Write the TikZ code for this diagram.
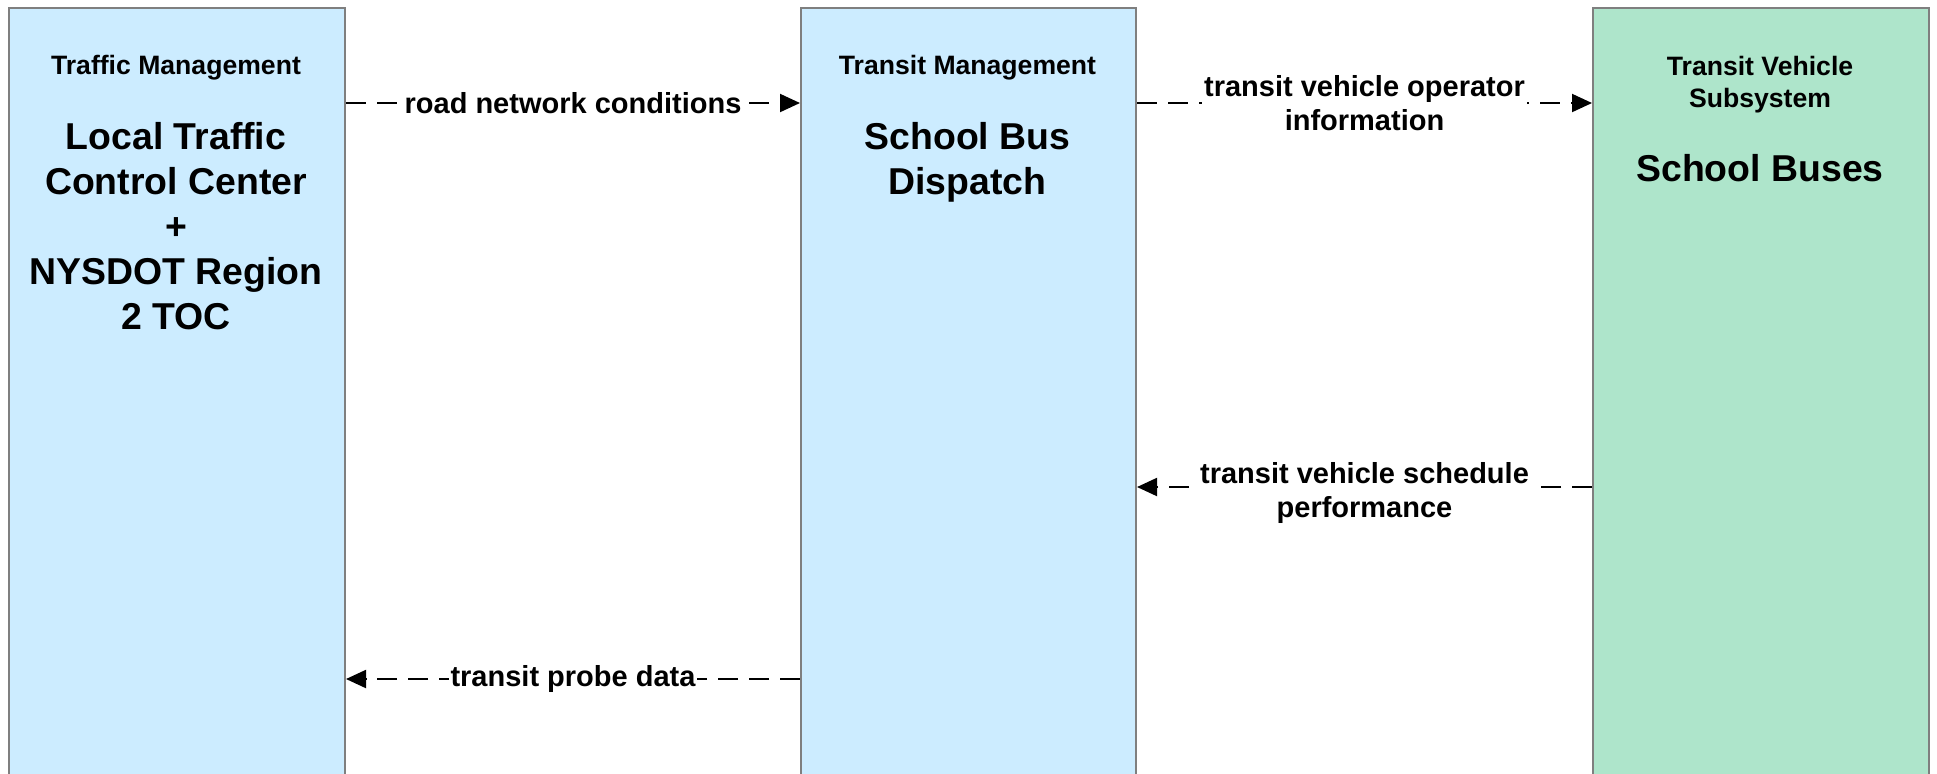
\documentclass[tikz,border=0pt]{standalone}
\usepackage{fontspec}
\setmainfont{Liberation Sans}
\usetikzlibrary{arrows.meta}

\definecolor{tmblue}{HTML}{CCECFF}
\definecolor{tvgreen}{HTML}{AEE5CB}
\definecolor{boxgray}{HTML}{7F7F7F}

\tikzset{
  sysbox/.style={draw=boxgray, line width=1pt, minimum width=168pt, minimum height=400pt, anchor=north west, inner sep=0pt},
  systitle/.style={font=\fontsize{13.3}{16}\selectfont\bfseries, align=center},
  sysname/.style={font=\fontsize{18.7}{22.5}\selectfont\bfseries, align=center},
  flow/.style={line width=1pt, dash pattern=on 10pt off 5.5pt, -{Triangle[length=10pt,width=9pt]}},
  flowlbl/.style={fill=white, inner sep=1pt, font=\fontsize{14.5}{17.3}\selectfont\bfseries, align=center}
}

\begin{document}
\begin{tikzpicture}[x=0.5pt, y=-0.5pt]
\useasboundingbox (0,0) rectangle (1937,773);
\clip (0,0) rectangle (1937,773);

% subsystems
\node[sysbox, fill=tmblue] (tm) at (8,7) {};
\node[sysbox, fill=tmblue, minimum width=167.5pt] (sbd) at (800,7) {};
\node[sysbox, fill=tvgreen] (sb) at (1592,7) {};

\node[systitle] (tmtitle) at (176,68) {Traffic Management};
\node[sysname] (tmname) at (176,226) {Local Traffic\\Control Center\\+\\NYSDOT Region\\2 TOC};

\node[systitle] (sbdtitle) at (967.5,68) {Transit Management};
\node[sysname] (sbdname) at (967.5,162) {School Bus\\Dispatch};

\node[systitle] (sbtitle) at (1760,85) {Transit Vehicle\\Subsystem};
\node[sysname] (sbname) at (1760,168) {School Buses};

% flows
\draw[flow] (tm.east |- 0,103) -- (sbd.west |- 0,103) node[midway, flowlbl] {road network conditions};
\draw[flow] (sbd.east |- 0,103) -- (sb.west |- 0,103) node[midway, flowlbl] {transit vehicle operator\\information};
\draw[flow] (sb.west |- 0,487) -- (sbd.east |- 0,487) node[midway, flowlbl, yshift=-3pt] {transit vehicle schedule\\performance};
\draw[flow] (sbd.west |- 0,679) -- (tm.east |- 0,679) node[midway, flowlbl] {transit probe data};

\end{tikzpicture}
\end{document}
